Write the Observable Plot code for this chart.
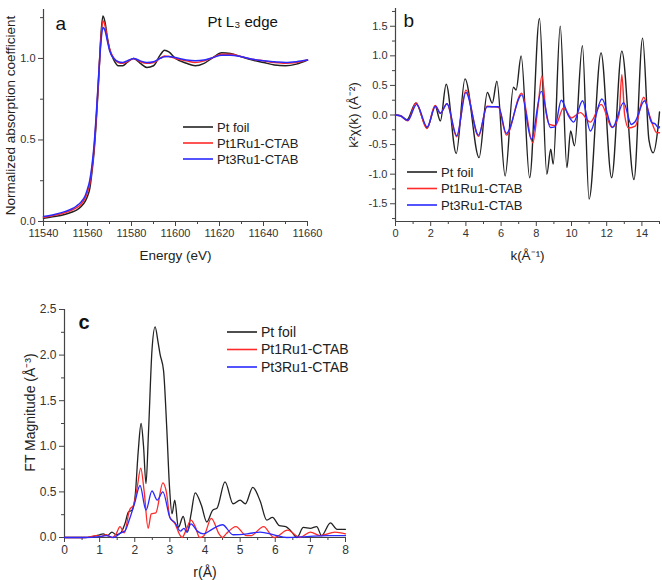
<!DOCTYPE html>
<html><head><meta charset="utf-8">
<script src="https://cdn.jsdelivr.net/npm/d3@7"></script>
<script src="https://cdn.jsdelivr.net/npm/@observablehq/plot@0.6"></script>
<style>
body{margin:0;background:#fff;}
#root{position:relative;width:662px;height:580px;font-family:"Liberation Sans",Arial,sans-serif;overflow:hidden;}
.panel{position:absolute;}
.legend{position:absolute;overflow:visible;}
</style></head><body><div id="root"></div><script>
// ---------- data ----------
const seriesNames = ["Pt foil", "Pt1Ru1-CTAB", "Pt3Ru1-CTAB"];
const seriesColors = ["#222222", "#ff2a2a", "#2a2aff"];

// Panel a: XANES, Pt L3 edge
const aEnergy = [11540,11545,11550,11553,11555,11557,11559,11560,11561,11562,11563,11564,11565,11566,11567,11568,11569,11570,11572,11574,11576,11578,11581,11584,11587,11590,11593,11595,11597,11600,11605,11609,11613,11617,11621,11625,11630,11635,11640,11645,11650,11655,11660];
const aPtFoil = [0.02,0.03,0.045,0.058,0.07,0.09,0.125,0.155,0.2,0.3,0.43,0.62,0.85,1.12,1.26,1.22,1.13,1.06,0.99,0.955,0.955,0.975,1.0,0.97,0.945,0.955,1.02,1.05,1.04,1.0,0.97,0.955,0.97,1.005,1.035,1.03,1.01,0.99,0.975,0.96,0.955,0.965,0.99];
const aPt1Ru1 = [0.025,0.038,0.055,0.07,0.085,0.105,0.145,0.18,0.23,0.32,0.45,0.64,0.87,1.1,1.23,1.2,1.12,1.06,1.0,0.975,0.97,0.98,1.0,0.98,0.97,0.975,1.0,1.015,1.012,1.0,0.985,0.975,0.985,1.005,1.025,1.025,1.01,0.995,0.985,0.975,0.97,0.975,0.99];
const aPt3Ru1 = [0.03,0.043,0.062,0.078,0.095,0.118,0.16,0.2,0.25,0.34,0.47,0.66,0.88,1.08,1.19,1.17,1.11,1.05,1.0,0.98,0.975,0.985,1.0,0.985,0.975,0.98,1.0,1.01,1.012,1.005,0.99,0.985,0.99,1.005,1.02,1.02,1.01,0.995,0.985,0.98,0.975,0.98,0.99];
const aXTicks = [11540,11560,11580,11600,11620,11640,11660];
const aXMinor = [11550,11570,11590,11610,11630,11650];
const aYTicks = [0, 0.5, 1.0];
const aYMinor = [0.25, 0.75, 1.25];

// Panel b: k^2 chi(k)
const bPtFoilK = [0,0.3,0.65,1.15,1.8,2.25,2.55,2.88,3.45,3.95,4.75,5.22,5.5,5.76,6.23,6.7,6.85,7.14,7.62,8.18,8.6,8.82,8.96,9.36,9.74,9.95,10.17,10.62,11.0,11.68,12.28,12.86,13.55,14.04,14.4,14.64,14.9,15];
const bPtFoil = [0,-0.01,-0.08,0.2,-0.22,0.15,-0.1,0.52,-0.65,0.61,-0.72,0.38,0.2,0.57,-1.03,0.47,0.42,1.0,-1.06,1.63,-1.0,-0.58,-0.83,1.5,-0.89,-0.27,-0.52,1.17,-1.42,1.05,-1.06,1.08,-1.09,1.3,-0.42,-0.64,-0.25,0.05];
const bPt1Ru1K = [0,0.3,0.7,1.17,1.78,2.25,2.55,2.92,3.48,4.0,4.72,5.2,5.5,5.85,6.3,7.17,7.8,8.1,8.32,8.55,8.75,9.08,9.55,10.0,10.5,11.07,11.69,12.3,12.7,12.86,13.02,13.24,13.62,14.1,14.47,14.85,15];
const bPt1Ru1 = [0,-0.02,-0.1,0.21,-0.23,0.16,0.03,0.19,-0.37,0.42,-0.36,0.15,0.14,0.13,-0.34,0.37,-0.47,0.15,0.66,0.05,-0.16,-0.18,0.12,-0.05,0.04,-0.12,0.18,-0.21,0.0,0.68,0.0,-0.22,-0.19,0.3,-0.04,-0.3,-0.3];
const bPt3Ru1K = [0,0.3,0.7,1.2,1.8,2.28,2.55,2.93,3.48,4.0,4.72,5.2,5.5,5.85,6.3,7.17,7.72,8.28,8.8,9.05,9.42,9.84,10.12,10.63,11.07,11.73,12.33,12.96,13.4,13.6,14.15,14.56,14.75,14.95,15];
const bPt3Ru1 = [0,-0.02,-0.09,0.18,-0.2,0.15,0.03,0.19,-0.35,0.38,-0.34,0.14,0.14,0.14,-0.31,0.34,-0.41,0.4,-0.21,-0.2,0.25,-0.02,-0.12,0.24,-0.27,0.27,-0.21,0.21,-0.16,-0.12,0.24,-0.13,-0.15,-0.22,-0.2];
const bXTicks = [0,2,4,6,8,10,12,14];
const bXMinor = [1,3,5,7,9,11,13,15];
const bYTicks = [-1.5,-1.0,-0.5,0.0,0.5,1.0,1.5];
const bYMinor = [-1.75,-1.25,-0.75,-0.25,0.25,0.75,1.25,1.75];

// Panel c: FT magnitude
const cPtFoilR = [0,0.5,0.8,1.0,1.1,1.22,1.35,1.47,1.6,1.72,1.82,1.92,2.01,2.1,2.18,2.25,2.32,2.39,2.49,2.58,2.66,2.72,2.82,2.91,2.99,3.06,3.14,3.24,3.38,3.5,3.6,3.72,3.9,4.05,4.22,4.34,4.57,4.8,5.0,5.15,5.36,5.57,5.76,5.92,6.12,6.3,6.45,6.62,6.8,7.0,7.18,7.32,7.57,7.76,8.0];
const cPtFoil = [0,0.0,0.01,0.03,0.04,0.02,0.06,0.03,0.05,0.15,0.28,0.3,0.45,0.95,1.25,1.0,0.59,1.14,2.05,2.31,2.15,2.01,1.83,1.21,0.55,0.26,0.41,0.11,0.23,0.06,0.25,0.49,0.35,0.17,0.3,0.32,0.61,0.37,0.41,0.37,0.55,0.4,0.19,0.22,0.13,0.12,0.07,0.0,0.11,0.1,0.12,0.02,0.16,0.09,0.09];
const cPt1Ru1R = [0,0.6,0.9,1.05,1.18,1.35,1.47,1.58,1.7,1.85,1.97,2.07,2.17,2.27,2.38,2.47,2.6,2.8,2.9,3.0,3.15,3.28,3.35,3.45,3.6,3.72,3.85,3.97,4.18,4.4,4.5,4.6,4.88,5.18,5.3,5.67,5.96,6.05,6.35,6.7,7.0,7.28,7.7,8.0];
const cPt1Ru1 = [0,0.0,0.02,0.01,0.03,0.0,0.04,0.12,0.05,0.3,0.36,0.55,0.76,0.5,0.1,0.26,0.27,0.6,0.5,0.22,0.15,0.03,0.0,0.07,0.19,0.12,0.0,0.02,0.21,0.04,0.0,0.04,0.12,0.02,0.02,0.12,0.0,0.01,0.08,0.0,0.06,0.02,0.06,0.04];
const cPt3Ru1R = [0,0.6,1.0,1.2,1.4,1.6,1.72,1.85,2.0,2.15,2.32,2.49,2.64,2.8,3.0,3.15,3.3,3.4,3.48,3.6,3.78,3.96,4.2,4.5,4.8,5.2,5.57,5.96,6.33,6.9,7.5,8.0];
const cPt3Ru1 = [0,0.0,0.01,0.02,0.0,0.05,0.07,0.2,0.38,0.57,0.3,0.51,0.41,0.5,0.22,0.16,0.07,0.1,0.06,0.15,0.07,0.04,0.09,0.14,0.03,0.04,0.06,0.03,0.0,0.01,0.02,0.02];
const cXTicks = [0,1,2,3,4,5,6,7,8];
const cXMinor = [0.5,1.5,2.5,3.5,4.5,5.5,6.5,7.5];
const cYTicks = [0,0.5,1.0,1.5,2.0,2.5];
const cYMinor = [0.25,0.75,1.25,1.75,2.25];

// ---------- helpers ----------
const zip = (xs, ys, s) => xs.map((x, i) => ({x, y: ys[i], s}));
const axisColor = "#444";
const textColor = "#333";
const fmt1 = d => d.toFixed(1);

function panel({width, height, margins, xDomain, yDomain, series, xTicks, xMinor, yTicks, yMinor, xFormat, yFormat, tickFont, xLabel, yLabel, labelFont, xLabelDy, yLabelDx, yLabelDy, annotations, strokeWidth, curve}) {
  const [mt, mr, mb, ml] = margins;
  const data = series.flat();
  return Plot.plot({
    width, height,
    marginTop: mt, marginRight: mr, marginBottom: mb, marginLeft: ml,
    style: {fontFamily: '"Liberation Sans", Arial, sans-serif', background: "transparent", overflow: "visible"},
    x: {domain: xDomain},
    y: {domain: yDomain},
    color: {domain: seriesNames, range: seriesColors},
    marks: [
      Plot.axisX(xTicks, {tickSize: 5, tickPadding: 3, fontSize: tickFont, fill: textColor, stroke: axisColor, tickFormat: xFormat, label: null}),
      Plot.axisX(xMinor, {tickSize: 3, stroke: axisColor, tickFormat: () => "", label: null}),
      Plot.axisY(yTicks, {tickSize: 5, tickPadding: 3, fontSize: tickFont, fill: textColor, stroke: axisColor, tickFormat: yFormat, label: null}),
      Plot.axisY(yMinor, {tickSize: 3, stroke: axisColor, tickFormat: () => "", label: null}),
      Plot.ruleX([xDomain[0]], {stroke: axisColor, strokeWidth: 1.2}),
      Plot.ruleY([yDomain[0]], {stroke: axisColor, strokeWidth: 1.2}),
      Plot.line(data, {x: "x", y: "y", z: "s", stroke: "s", strokeWidth, curve}),
      Plot.text([xLabel], {text: d => d, frameAnchor: "bottom", textAnchor: "middle", lineAnchor: "middle", dy: xLabelDy, fontSize: labelFont, fill: "#222"}),
      Plot.text([yLabel], {text: d => d, frameAnchor: "left", textAnchor: "middle", lineAnchor: "middle", rotate: -90, dx: yLabelDx, dy: yLabelDy || 0, fontSize: labelFont, fill: "#222"}),
      ...annotations.map(a => Plot.text([a.text], {text: d => d, frameAnchor: "top-left", textAnchor: "start", lineAnchor: "middle", dx: a.dx, dy: a.dy, fontSize: a.size, fontWeight: a.weight || "normal", fill: "#111"}))
    ]
  });
}

function legend(root, left, top, rowGap, fontSize) {
  const ns = "http://www.w3.org/2000/svg";
  const svg = document.createElementNS(ns, "svg");
  svg.setAttribute("class", "legend");
  svg.setAttribute("width", 140);
  svg.setAttribute("height", rowGap * 3 + 10);
  svg.style.left = left + "px";
  svg.style.top = (top - 8) + "px";
  seriesNames.forEach((n, i) => {
    const y = 8 + i * rowGap;
    const ln = document.createElementNS(ns, "line");
    ln.setAttribute("x1", 0); ln.setAttribute("x2", 30);
    ln.setAttribute("y1", y); ln.setAttribute("y2", y);
    ln.setAttribute("stroke", seriesColors[i]);
    ln.setAttribute("stroke-width", 1.6);
    svg.appendChild(ln);
    const t = document.createElementNS(ns, "text");
    t.setAttribute("x", 34); t.setAttribute("y", y);
    t.setAttribute("dy", "0.35em");
    t.setAttribute("font-size", fontSize);
    t.setAttribute("font-family", '"Liberation Sans", Arial, sans-serif');
    t.setAttribute("fill", "#222");
    t.textContent = n;
    svg.appendChild(t);
  });
  root.appendChild(svg);
}

function place(root, el, left, top) {
  const d = document.createElement("div");
  d.className = "panel";
  d.style.left = left + "px";
  d.style.top = top + "px";
  d.appendChild(el);
  root.appendChild(d);
}

const root = document.getElementById("root");

// Panel a
place(root, panel({
  width: 330, height: 290, margins: [9, 23, 69, 43],
  xDomain: [11540, 11660], yDomain: [0, 1.3],
  series: [zip(aEnergy, aPtFoil, seriesNames[0]), zip(aEnergy, aPt1Ru1, seriesNames[1]), zip(aEnergy, aPt3Ru1, seriesNames[2])],
  xTicks: aXTicks, xMinor: aXMinor, yTicks: aYTicks, yMinor: aYMinor,
  xFormat: d => String(d), yFormat: fmt1, tickFont: 11,
  xLabel: "Energy (eV)", yLabel: "Normalized absorption coefficient", labelFont: 13.5,
  xLabelDy: 34, yLabelDx: -33,
  annotations: [{text: "a", dx: 12, dy: 14, size: 19}, {text: "Pt L\u2083 edge", dx: 164, dy: 13, size: 15}],
  strokeWidth: 1.5, curve: "monotone-x"
}), 0, 0);

// Panel b
place(root, panel({
  width: 332, height: 290, margins: [8, 3, 69, 65],
  xDomain: [0, 15], yDomain: [-1.8, 1.8],
  series: [zip(bPtFoilK, bPtFoil, seriesNames[0]), zip(bPt1Ru1K, bPt1Ru1, seriesNames[1]), zip(bPt3Ru1K, bPt3Ru1, seriesNames[2])],
  xTicks: bXTicks, xMinor: bXMinor, yTicks: bYTicks, yMinor: bYMinor,
  xFormat: d => String(d), yFormat: fmt1, tickFont: 11,
  xLabel: "k(\u00c5\u207b\u00b9)", yLabel: "k\u00b2\u03c7(k) (\u00c5\u207b\u00b2)", labelFont: 13.5,
  xLabelDy: 34, yLabelDx: -42,
  annotations: [{text: "b", dx: 8, dy: 12, size: 19}],
  strokeWidth: 1.4, curve: "monotone-x"
}), 330, 0);

// Panel c
place(root, panel({
  width: 360, height: 290, margins: [19, 15, 43, 64],
  xDomain: [0, 8], yDomain: [0, 2.5],
  series: [zip(cPtFoilR, cPtFoil, seriesNames[0]), zip(cPt1Ru1R, cPt1Ru1, seriesNames[1]), zip(cPt3Ru1R, cPt3Ru1, seriesNames[2])],
  xTicks: cXTicks, xMinor: cXMinor, yTicks: cYTicks, yMinor: cYMinor,
  xFormat: d => String(d), yFormat: fmt1, tickFont: 12,
  xLabel: "r(\u00c5)", yLabel: "FT Magnitude (\u00c5\u207b\u00b3)", labelFont: 14,
  xLabelDy: 35, yLabelDx: -34, yLabelDy: -11,
  annotations: [{text: "c", dx: 14, dy: 13, size: 20, weight: "bold"}],
  strokeWidth: 1.3, curve: "monotone-x"
}), 0, 290);

legend(root, 183, 127, 16, 13);
legend(root, 407, 172, 16.5, 13);
legend(root, 227, 332, 17.5, 14);
</script></body></html>
